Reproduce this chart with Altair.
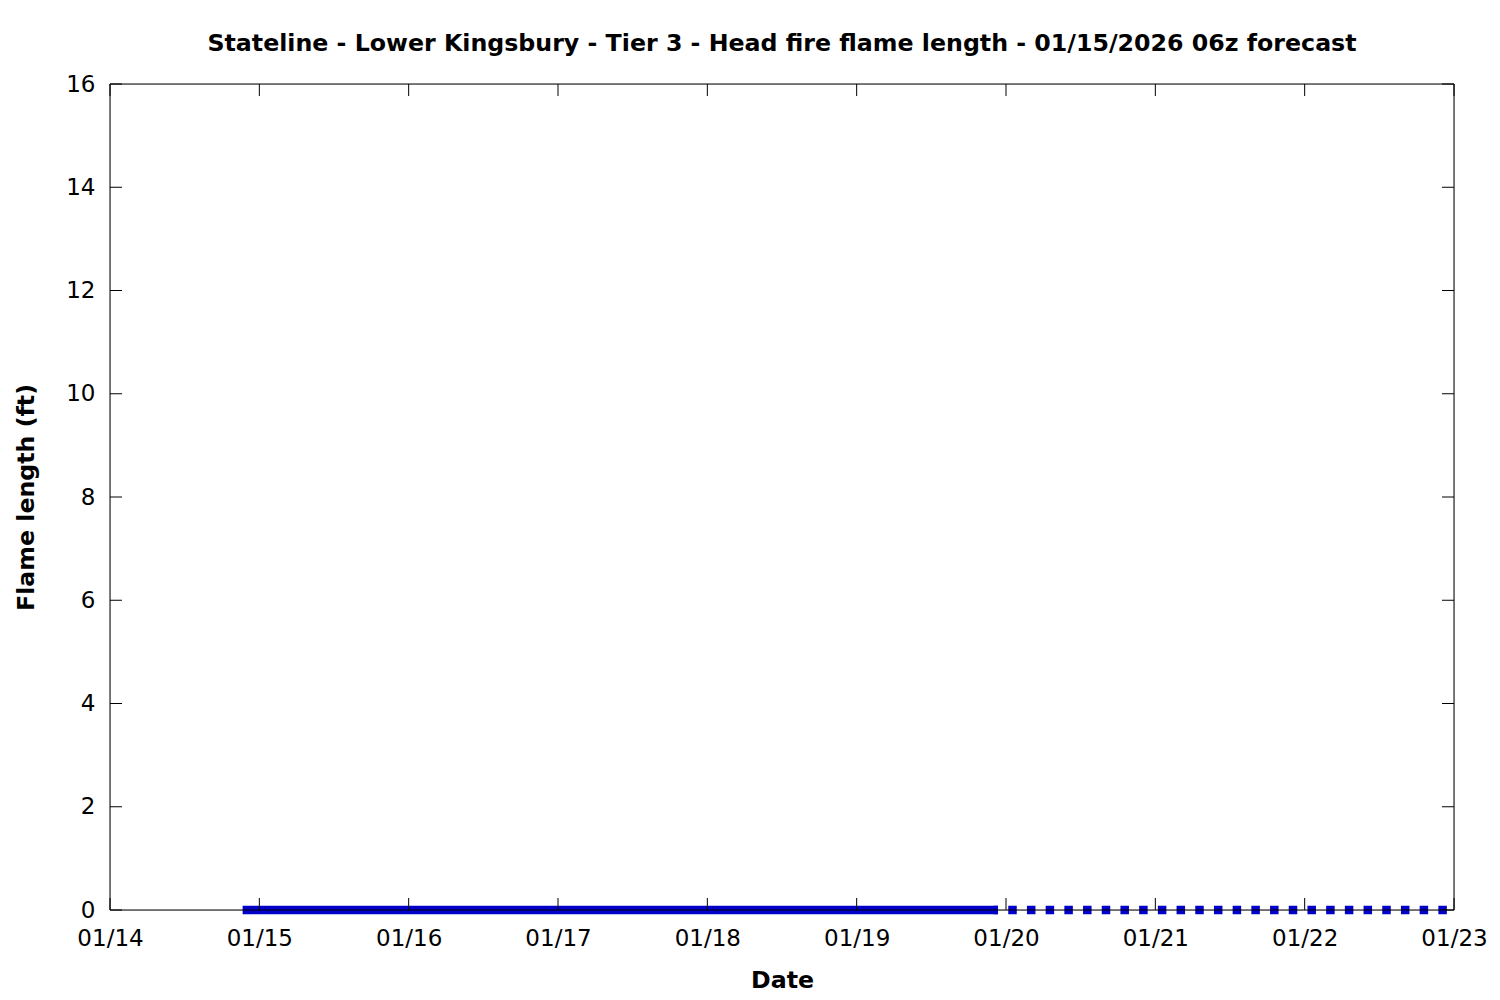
import altair as alt
import pandas as pd

# --- data ---
solid_times = ["2026-01-14T22:00:00", "2026-01-19T22:00:00"]
solid_values = [0, 0]
dotted_times = ["2026-01-19T22:00:00", "2026-01-22T23:00:00"]
dotted_values = [0, 0]

x_tick_dates = ["2026-01-14T00:00:00", "2026-01-15T00:00:00", "2026-01-16T00:00:00",
                "2026-01-17T00:00:00", "2026-01-18T00:00:00", "2026-01-19T00:00:00",
                "2026-01-20T00:00:00", "2026-01-21T00:00:00", "2026-01-22T00:00:00",
                "2026-01-23T00:00:00"]
y_tick_values = [0, 2, 4, 6, 8, 10, 12, 14, 16]

TITLE = "Stateline - Lower Kingsbury - Tier 3 - Head fire flame length - 01/15/2026 06z forecast"
FONT = "DejaVu Sans"
W, H = 1344, 826
BLUE = "#0000c8"
LABEL_FS = 23
TITLE_FS = 23.7

solid_df = pd.DataFrame({"t": solid_times, "v": solid_values})
dotted_df = pd.DataFrame({"t": dotted_times, "v": dotted_values})
xt_df = pd.DataFrame({"t": x_tick_dates})
yt_df = pd.DataFrame({"v": y_tick_values})

x_scale = alt.Scale(domain=[alt.DateTime(year=2026, month=1, date=14),
                            alt.DateTime(year=2026, month=1, date=23)], nice=False)
y_scale = alt.Scale(domain=[0, 16], nice=False, zero=False)

x_axis = alt.Axis(
    title="Date", format="%m/%d", tickCount={"interval": "day", "step": 1},
    ticks=False, tickSize=0, domain=False, grid=False,
    labelFont=FONT, labelFontSize=LABEL_FS, labelColor="black", labelPadding=17,
    labelFlush=False, labelOverlap=False,
    titleFont=FONT, titleFontSize=TITLE_FS, titleFontWeight="bold", titleColor="black",
    titleX=672, titleY=70, titleBaseline="middle", titleAlign="center",
)
y_axis = alt.Axis(
    title="Flame length (ft)", values=y_tick_values,
    ticks=False, tickSize=0, domain=False, grid=False,
    labelFont=FONT, labelFontSize=LABEL_FS, labelColor="black", labelPadding=15,
    labelFlush=False, labelOverlap=False,
    titleFont=FONT, titleFontSize=TITLE_FS, titleFontWeight="bold", titleColor="black",
    titleX=-84, titleY=413, titleBaseline="middle", titleAlign="center", titleAngle=270,
)

solid = alt.Chart(solid_df).mark_line(
    color=BLUE, strokeWidth=8.5, strokeCap="square"
).encode(
    x=alt.X("t:T", scale=x_scale, axis=x_axis),
    y=alt.Y("v:Q", scale=y_scale, axis=y_axis),
)

dotted = alt.Chart(dotted_df).mark_line(
    color=BLUE, strokeWidth=8.5, strokeCap="butt",
    strokeDash=[8.5, 10.2], strokeDashOffset=4.0
).encode(
    x=alt.X("t:T", scale=x_scale),
    y=alt.Y("v:Q", scale=y_scale),
)

TL = 12
xt_bottom = alt.Chart(xt_df).mark_rule(color="black", strokeWidth=1).encode(
    x=alt.X("t:T", scale=x_scale), y=alt.value(H - TL), y2=alt.value(H))
xt_top = alt.Chart(xt_df).mark_rule(color="black", strokeWidth=1).encode(
    x=alt.X("t:T", scale=x_scale), y=alt.value(0), y2=alt.value(TL))
yt_left = alt.Chart(yt_df).mark_rule(color="black", strokeWidth=1).encode(
    y=alt.Y("v:Q", scale=y_scale), x=alt.value(0), x2=alt.value(TL))
yt_right = alt.Chart(yt_df).mark_rule(color="black", strokeWidth=1).encode(
    y=alt.Y("v:Q", scale=y_scale), x=alt.value(W - TL), x2=alt.value(W))

border = alt.Chart(pd.DataFrame({"a": [0]})).mark_rect(
    fill=None, filled=False, stroke="black", strokeWidth=1
).encode(x=alt.value(0), x2=alt.value(W), y=alt.value(0), y2=alt.value(H))

chart = alt.layer(solid, dotted, xt_bottom, xt_top, yt_left, yt_right, border).properties(
    width=W, height=H,
    title=alt.TitleParams(TITLE, font=FONT, fontSize=TITLE_FS, fontWeight="bold",
                          color="black", anchor="middle", offset=17),
    padding={"left": 102, "top": 76, "right": 36, "bottom": 84},
    autosize=alt.AutoSizeParams(type="none"),
).configure_view(stroke=None).configure(background="white")

chart.save("out.html", embed_options={"renderer": "svg", "actions": False})
